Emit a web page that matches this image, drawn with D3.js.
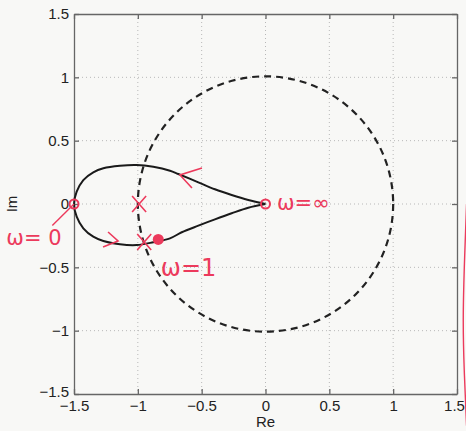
<!DOCTYPE html>
<html>
<head>
    <style>
        body {
            margin: 0;
            padding: 0;
            background-color: #f8f8f6;
            font-family: Arial, "Liberation Sans", sans-serif;
        }
        .grid line {
            stroke: #b8b8b8;
            stroke-width: 1;
            stroke-dasharray: 1,3;
        }
        .tick-label {
            font-family: "Liberation Sans", Arial, sans-serif;
            font-size: 15px;
            fill: #222;
        }
        .note {
            fill: #ec3a5c;
            font-family: "DejaVu Sans", sans-serif;
        }
    </style>
    <script src="https://d3js.org/d3.v7.min.js"></script>
</head>
<body>
<div id="chart"></div>
<script>
    // tick values, same on both axes
    var ticks = [-1.5, -1, -0.5, 0, 0.5, 1, 1.5];
    var tickLabels = ["\u22121.5", "\u22121", "\u22120.5", "0", "0.5", "1", "1.5"];

    // nyquist curve (Re, Im)
    var nyqRe = [0, -0.135, -0.265, -0.396, -0.526, -0.683, -0.748, -0.879, -1.009, -1.14, -1.27, -1.349, -1.427, -1.479, -1.5,
                 -1.479, -1.427, -1.349, -1.27, -1.14, -1.009, -0.879, -0.748, -0.656, -0.526, -0.396, -0.265, -0.135, 0];
    var nyqIm = [0, 0.032, 0.071, 0.116, 0.171, 0.237, 0.263, 0.294, 0.308, 0.302, 0.282, 0.25, 0.189, 0.097, 0,
                 -0.1, -0.192, -0.258, -0.292, -0.318, -0.324, -0.302, -0.271, -0.223, -0.171, -0.121, -0.073, -0.029, 0];

    // unit circle radius
    var circleR = 1;

    // hand written marks (Re, Im)
    var ringPts = [[-1.5, 0], [0, 0]];
    var dotPt = [-0.84, -0.28];
    var crossPts = [[-0.99, 0], [-0.95, -0.3]];
    var labels = ["\u03c9= 0", "\u03c9=\u221e", "\u03c9=1"];
    var labelPos = [[-2.03, -0.32], [0.09, -0.045], [-0.82, -0.57]];
    var labelSize = [21, 21, 24];

    var W = 466, H = 431;
    var margin = { top: 14, right: 9, bottom: 37, left: 74 };
    var width = W - margin.left - margin.right;
    var height = H - margin.top - margin.bottom;

    var svg = d3.select("#chart").append("svg")
        .attr("width", W)
        .attr("height", H);

    var x = d3.scaleLinear().domain([-1.5, 1.5]).range([0, width]);
    var y = d3.scaleLinear().domain([-1.5, 1.5]).range([height, 0]);

    var g = svg.append("g")
        .attr("transform", "translate(" + margin.left + "," + margin.top + ")");

    // grid
    var grid = g.append("g").attr("class", "grid");
    grid.selectAll(".gx").data(ticks.slice(1, -1)).enter().append("line")
        .attr("x1", function(d) { return x(d); })
        .attr("x2", function(d) { return x(d); })
        .attr("y1", 0).attr("y2", height);
    grid.selectAll(".gy").data(ticks.slice(1, -1)).enter().append("line")
        .attr("y1", function(d) { return y(d); })
        .attr("y2", function(d) { return y(d); })
        .attr("x1", 0).attr("x2", width);

    // axes (matlab style box, ticks inside)
    function fmt(d) { return tickLabels[ticks.indexOf(d)]; }
    var axB = g.append("g").attr("transform", "translate(0," + height + ")")
        .call(d3.axisBottom(x).tickValues(ticks).tickFormat(fmt).tickSizeInner(-5).tickSizeOuter(0).tickPadding(9));
    var axL = g.append("g")
        .call(d3.axisLeft(y).tickValues(ticks).tickFormat(fmt).tickSizeInner(-5).tickSizeOuter(0).tickPadding(5));
    var axT = g.append("g")
        .call(d3.axisTop(x).tickValues(ticks).tickFormat("").tickSizeInner(-5).tickSizeOuter(0));
    var axR = g.append("g").attr("transform", "translate(" + width + ",0)")
        .call(d3.axisRight(y).tickValues(ticks).tickFormat("").tickSizeInner(-5).tickSizeOuter(0));
    [axB, axL, axT, axR].forEach(function(a) {
        a.attr("font-family", null).attr("font-size", null);
        a.selectAll("path, line").attr("stroke", "#666").attr("stroke-width", 1.3);
        a.selectAll("text").attr("class", "tick-label");
    });
    axB.selectAll("text").attr("dy", "0.5em");
    // last x label sits at the window edge, nudge it in so it stays whole
    axB.selectAll("text").filter(function(d) { return d == 1.5; }).attr("dx", "-3");
    // bottom-left labels overlap like in the original
    axL.selectAll("text").filter(function(d) { return d == -1.5; }).attr("dy", "0.15em");

    svg.append("text")
        .attr("x", margin.left + width / 2)
        .attr("y", H - 4)
        .attr("text-anchor", "middle")
        .attr("class", "tick-label")
        .text("Re");
    svg.append("text")
        .attr("transform", "translate(17," + (margin.top + y(0)) + ") rotate(-90)")
        .attr("text-anchor", "middle")
        .attr("class", "tick-label")
        .text("Im");

    // dashed unit circle
    g.append("circle")
        .attr("cx", x(0)).attr("cy", y(0))
        .attr("r", x(circleR) - x(0))
        .attr("fill", "none")
        .attr("stroke", "#222")
        .attr("stroke-width", 2.2)
        .attr("stroke-dasharray", "7,5");

    // nyquist curve
    var line = d3.line()
        .x(function(d, i) { return x(nyqRe[i]); })
        .y(function(d, i) { return y(nyqIm[i]); })
        .curve(d3.curveCatmullRom);
    g.append("path")
        .attr("d", line(nyqRe))
        .attr("fill", "none")
        .attr("stroke", "#1a1a1a")
        .attr("stroke-width", 2);

    // red hand marks
    var red = "#ec3a5c";
    g.selectAll(".ring").data(ringPts).enter().append("circle")
        .attr("cx", function(d) { return x(d[0]); })
        .attr("cy", function(d) { return y(d[1]); })
        .attr("r", 4.5)
        .attr("fill", "none")
        .attr("stroke", red)
        .attr("stroke-width", 2);
    g.append("circle")
        .attr("cx", x(dotPt[0])).attr("cy", y(dotPt[1]))
        .attr("r", 5.5)
        .attr("fill", red);
    crossPts.forEach(function(p) {
        var cx = x(p[0]), cy = y(p[1]);
        g.append("path")
            .attr("d", "M" + (cx - 7) + "," + (cy - 8) + "L" + (cx + 7) + "," + (cy + 8) +
                       "M" + (cx + 7) + "," + (cy - 8) + "L" + (cx - 7) + "," + (cy + 8))
            .attr("stroke", red)
            .attr("stroke-width", 1.6)
            .attr("fill", "none");
    });

    // arrows along the curve: tip, then two arm offsets
    var arrowTip = [[-0.67, 0.229], [-1.155, -0.292]];
    var arrowArms = [[[22, -7], [12, 13]], [[-10, -9], [-15, 6]]];
    arrowTip.forEach(function(a, i) {
        var cx = x(a[0]), cy = y(a[1]), arms = arrowArms[i];
        g.append("path")
            .attr("d", "M" + (cx + arms[0][0]) + "," + (cy + arms[0][1]) + "L" + cx + "," + cy +
                       "L" + (cx + arms[1][0]) + "," + (cy + arms[1][1]))
            .attr("stroke", red).attr("stroke-width", 1.6).attr("fill", "none");
    });

    // leader line for w=0
    g.append("line")
        .attr("x1", x(-1.5)).attr("y1", y(0))
        .attr("x2", x(-1.67)).attr("y2", y(-0.17))
        .attr("stroke", red).attr("stroke-width", 1.4);

    g.selectAll(".note").data(labels).enter().append("text")
        .attr("class", "note")
        .attr("x", function(d, i) { return x(labelPos[i][0]); })
        .attr("y", function(d, i) { return y(labelPos[i][1]); })
        .attr("font-size", function(d, i) { return labelSize[i]; })
        .text(function(d) { return d; });

    // red curve on the right edge
    var edgeRe = [1.575, 1.56, 1.545, 1.555, 1.575];
    var edgeIm = [0.0, -0.4, -0.9, -1.3, -1.75];
    g.append("path")
        .attr("d", d3.line()
            .x(function(d, i) { return x(edgeRe[i]); })
            .y(function(d, i) { return y(edgeIm[i]); })
            .curve(d3.curveBasis)(edgeRe))
        .attr("stroke", red).attr("stroke-width", 1.4).attr("fill", "none");
</script>
</body>
</html>
